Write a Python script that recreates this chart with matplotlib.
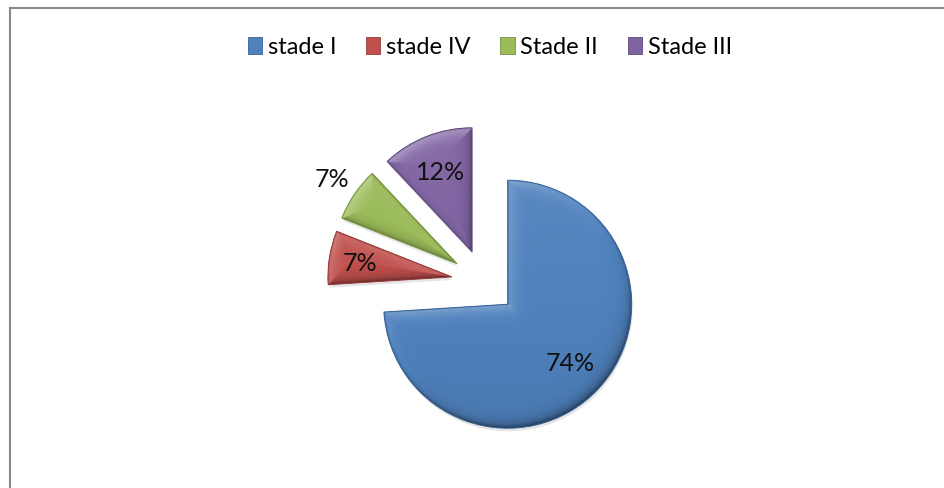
import matplotlib
matplotlib.use("Agg")
import matplotlib.pyplot as plt
import numpy as np
from matplotlib.patches import Patch, PathPatch
from matplotlib.lines import Line2D
from matplotlib.colors import to_rgb

categories = ["stade I", "stade IV", "Stade II", "Stade III"]
values = [74, 7, 7, 12]
colors = ["#4F81BD", "#C0504D", "#9BBB59", "#8064A2"]
edge_colors = ["#3A6496", "#943C3A", "#76913F", "#5F4A7D"]

# radial placement of each percentage label, as a fraction of the radius
label_dist = [0.69, 0.75, 1.22, 0.70]

W, H, DPI = 944, 489, 100
fig = plt.figure(figsize=(W / DPI, H / DPI), dpi=DPI)
fig.patch.set_facecolor("white")

# pie axes: square, centred on the pie centre
cx, cy, half = 484, 283, 200
ax = fig.add_axes([(cx - half) / W, (H - cy - half) / H, 2 * half / W, 2 * half / H])
R = 124  # pixels per unit radius
lim = half / R

font = ["Lato", "DejaVu Sans"]

wedges, texts, autotexts = ax.pie(
    values,
    colors=colors,
    explode=[0.262] * len(values),
    startangle=90,
    counterclock=False,
    radius=1.0,
    autopct="%1.0f%%",
    pctdistance=0.7,
    wedgeprops=dict(linewidth=0),
    textprops=dict(fontsize=18, family=font, color="#111111"),
    frame=True,
)
ax.set_xlim(-lim, lim)
ax.set_ylim(-lim, lim)
ax.set_aspect("equal")
ax.axis("off")


def bevel_image(w, base):
    """Shaded fill for a wedge: soft bevel lit from the upper left."""
    x0, y0 = w.center
    r = w.r
    n = int(2 * r * R * 2)
    xs = np.linspace(x0 - r, x0 + r, n)
    ys = np.linspace(y0 - r, y0 + r, n)
    X, Y = np.meshgrid(xs, ys)
    dx, dy = X - x0, Y - y0
    rho = np.hypot(dx, dy)
    d = r - rho
    for t in (w.theta1, w.theta2):
        u = np.array([np.cos(np.deg2rad(t)), np.sin(np.deg2rad(t))])
        s = dx * u[0] + dy * u[1]
        perp = np.abs(dx * u[1] - dy * u[0])
        de = np.where(s > 0, perp, rho)
        d = np.minimum(d, de)
    dpx = np.clip(d * R, 0, None)
    gy, gx = np.gradient(dpx)
    gn = np.hypot(gx, gy) + 1e-9
    nx, ny = -gx / gn, -gy / gn  # outward normal
    light = np.array([-0.6, 0.8])
    facing = nx * light[0] + ny * light[1]
    zone = np.exp(-dpx / 6.0)
    s = 0.42 * zone * facing
    s += 0.05 * (dy / r)  # slight top-to-bottom gradient
    s -= 0.25 * np.exp(-dpx / 1.2)  # dark rim
    s = np.clip(s, -0.5, 0.5)
    base = np.array(base)
    img = np.empty(X.shape + (3,))
    pos = s > 0
    for k in range(3):
        img[..., k] = np.where(pos, base[k] + (1 - base[k]) * s, base[k] * (1 + s))
    return img, (x0 - r, x0 + r, y0 - r, y0 + r)


shadow_shift = matplotlib.transforms.ScaledTranslation(0.01, -0.03, fig.dpi_scale_trans)
for w, c, ec, t, dl in zip(wedges, colors, edge_colors, autotexts, label_dist):
    # soft drop shadow
    sh = PathPatch(w.get_path(), facecolor="#000000", alpha=0.10,
                   edgecolor="none", zorder=0.5)
    sh.set_transform(ax.transData + shadow_shift)
    ax.add_patch(sh)
    img, ext = bevel_image(w, to_rgb(c))
    im = ax.imshow(img, extent=ext, origin="lower", interpolation="bilinear", zorder=1.5)
    im.set_clip_path(w)
    ax.add_patch(PathPatch(w.get_path(), transform=ax.transData, facecolor="none",
                           edgecolor=ec, linewidth=0.7, zorder=2))
    mid = np.deg2rad((w.theta1 + w.theta2) / 2)
    x0, y0 = w.center
    t.set_position((x0 + dl * w.r * np.cos(mid), y0 + dl * w.r * np.sin(mid)))
    t.set_ha("center")
    t.set_va("center")
    t.set_zorder(4)

ax.set_xlim(-lim, lim)
ax.set_ylim(-lim, lim)

# legend along the top
handles = [Patch(facecolor=c, edgecolor=e, linewidth=0.6) for c, e in zip(colors, edge_colors)]
fig.legend(
    handles, categories, loc="center", bbox_to_anchor=(490 / W, 1 - 48 / H),
    ncol=4, frameon=False, handlelength=0.6, handleheight=0.7, handletextpad=0.25,
    columnspacing=1.25, prop=dict(family=font, size=17),
)

# chart frame (left and top edges)
fig.add_artist(Line2D([10 / W, 10 / W], [0, 1 - 9 / H], transform=fig.transFigure,
                      color="#8a8a8a", linewidth=1.5))
fig.add_artist(Line2D([10 / W, 1], [1 - 9 / H, 1 - 9 / H], transform=fig.transFigure,
                      color="#8a8a8a", linewidth=1.5))

fig.savefig("out.png", dpi=DPI)
